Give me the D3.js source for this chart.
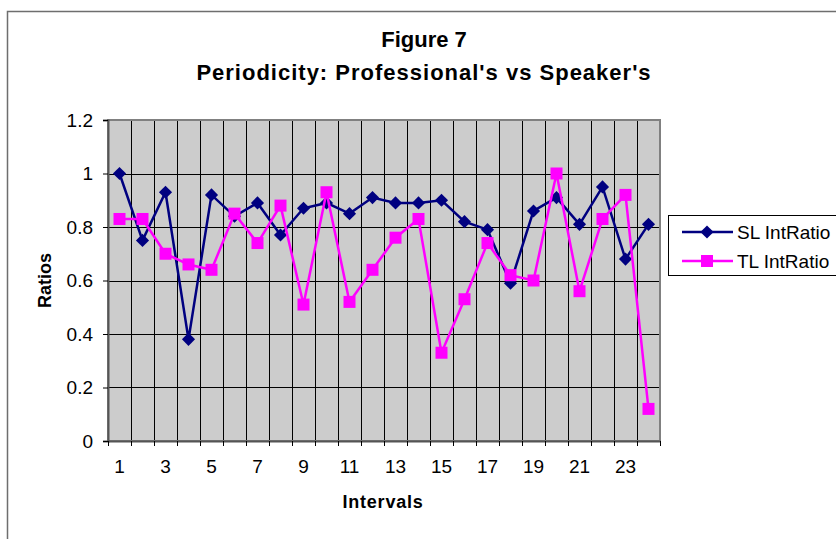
<!DOCTYPE html>
<html>
<head>
<meta charset="utf-8">
<script src="https://cdn.jsdelivr.net/npm/d3@7"></script>
<style>
  body { margin: 0; background: #fff; }
  text { font-family: "Liberation Sans", Arial, sans-serif; fill: #000; }
</style>
</head>
<body>
<div id="chart"></div>
<script>
// data
const intervals = d3.range(1, 25);
const slIntRatio = [1.00, 0.75, 0.93, 0.38, 0.92, 0.84, 0.89, 0.77, 0.87, 0.89, 0.85, 0.91,
                    0.89, 0.89, 0.90, 0.82, 0.79, 0.59, 0.86, 0.91, 0.81, 0.95, 0.68, 0.81];
const tlIntRatio = [0.83, 0.83, 0.70, 0.66, 0.64, 0.85, 0.74, 0.88, 0.51, 0.93, 0.52, 0.64,
                    0.76, 0.83, 0.33, 0.53, 0.74, 0.62, 0.60, 1.00, 0.56, 0.83, 0.92, 0.12];
const yTicks = [0, 0.2, 0.4, 0.6, 0.8, 1, 1.2];
const seriesNames = ["SL IntRatio", "TL IntRatio"];

const W = 836, H = 539;
const plot = {left: 108, right: 660, top: 120, bottom: 441};

const svg = d3.select("#chart").append("svg")
  .attr("width", W).attr("height", H);

// outer chart frame (runs off the right / bottom edge)
svg.append("rect")
  .attr("x", 7.5).attr("y", 11.5)
  .attr("width", W + 20).attr("height", H + 20)
  .attr("fill", "#fff").attr("stroke", "#6e6e6e").attr("stroke-width", 1.5);

const x = d3.scaleBand().domain(intervals).range([plot.left, plot.right]).padding(0);
const y = d3.scaleLinear().domain([0, 1.2]).range([plot.bottom, plot.top]);

// titles
svg.append("text").attr("x", 424).attr("y", 47)
  .attr("text-anchor", "middle").style("font-size", "22px").style("font-weight", "bold")
  .text("Figure 7");
svg.append("text").attr("x", 424).attr("y", 80)
  .attr("text-anchor", "middle").style("font-size", "22px").style("font-weight", "bold")
  .style("letter-spacing", "1px")
  .text("Periodicity: Professional's vs Speaker's");

// plot background
svg.append("rect")
  .attr("x", plot.left).attr("y", plot.top)
  .attr("width", plot.right - plot.left).attr("height", plot.bottom - plot.top)
  .attr("fill", "#cccccc");

// gridlines
const grid = svg.append("g");
grid.selectAll(".hg").data(yTicks.slice(1, -1)).enter().append("line")
  .attr("x1", plot.left).attr("x2", plot.right)
  .attr("y1", d => Math.round(y(d)) + 0.5).attr("y2", d => Math.round(y(d)) + 0.5)
  .attr("stroke", "#000").attr("stroke-width", 1);
grid.selectAll(".vg").data(intervals.slice(1)).enter().append("line")
  .attr("x1", d => Math.round(x(d)) + 0.5).attr("x2", d => Math.round(x(d)) + 0.5)
  .attr("y1", plot.top).attr("y2", plot.bottom)
  .attr("stroke", "#000").attr("stroke-width", 1);

// plot border
svg.append("rect")
  .attr("x", plot.left).attr("y", plot.top)
  .attr("width", plot.right - plot.left).attr("height", plot.bottom - plot.top)
  .attr("fill", "none").attr("stroke", "#808080").attr("stroke-width", 2);

// y axis
const yAxis = svg.append("g")
  .attr("transform", `translate(${plot.left},0)`)
  .call(d3.axisLeft(y).tickValues(yTicks).tickSize(5).tickPadding(10)
    .tickFormat(d => d3.format("")(+d.toFixed(1))));
yAxis.select(".domain").attr("stroke", "#555").attr("stroke-width", 2);
yAxis.selectAll(".tick line").attr("stroke", "#000");
yAxis.selectAll(".tick text").style("font-size", "19px").attr("fill", "#000");

// x axis
const xAxis = svg.append("g")
  .attr("transform", `translate(0,${plot.bottom})`)
  .call(d3.axisBottom(x).tickSize(0).tickPadding(19)
    .tickFormat(d => d % 2 === 1 ? d : ""));
xAxis.select(".domain").attr("stroke", "#555").attr("stroke-width", 2);
xAxis.selectAll(".tick text").style("font-size", "19px").attr("fill", "#000");
xAxis.selectAll(".cat-tick").data(intervals.concat([25])).enter().append("line")
  .attr("x1", (d, i) => Math.round(plot.left + i * x.bandwidth()) + 0.5)
  .attr("x2", (d, i) => Math.round(plot.left + i * x.bandwidth()) + 0.5)
  .attr("y1", 0).attr("y2", 5).attr("stroke", "#000");

// axis titles
svg.append("text").attr("x", 383).attr("y", 508)
  .attr("text-anchor", "middle").style("font-size", "18px").style("font-weight", "bold")
  .style("letter-spacing", "0.8px")
  .text("Intervals");
svg.append("text")
  .attr("transform", `translate(51,${(plot.top + plot.bottom) / 2}) rotate(-90)`)
  .attr("text-anchor", "middle").style("font-size", "18px").style("font-weight", "bold")
  .text("Ratios");

// series
const cx = d => x(d) + x.bandwidth() / 2;
const colors = ["#000080", "#ff00ff"];
const allSeries = [slIntRatio, tlIntRatio];

const line = d3.line().x((d, i) => cx(intervals[i])).y(d => y(d));
const diamond = d3.symbol().type(d3.symbolDiamond2).size(110);

allSeries.forEach((vals, s) => {
  svg.append("path").datum(vals)
    .attr("d", line).attr("fill", "none")
    .attr("stroke", colors[s]).attr("stroke-width", 2.5);
  const g = svg.append("g");
  if (s === 0) {
    g.selectAll("path").data(vals).enter().append("path")
      .attr("d", diamond)
      .attr("transform", (d, i) => `translate(${cx(intervals[i])},${y(d)})`)
      .attr("fill", colors[s]);
  } else {
    g.selectAll("rect").data(vals).enter().append("rect")
      .attr("x", (d, i) => cx(intervals[i]) - 6).attr("y", d => y(d) - 6)
      .attr("width", 12).attr("height", 12)
      .attr("fill", colors[s]);
  }
});

// legend
const legend = svg.append("g");
legend.append("rect")
  .attr("x", 668.5).attr("y", 215.5).attr("width", 190).attr("height", 60)
  .attr("fill", "#fff").attr("stroke", "#000").attr("stroke-width", 1);
seriesNames.forEach((name, i) => {
  const ly = 232 + i * 29;
  legend.append("line").attr("x1", 682).attr("x2", 733).attr("y1", ly).attr("y2", ly)
    .attr("stroke", colors[i]).attr("stroke-width", 2.5);
  if (i === 0) {
    legend.append("path").attr("d", diamond).attr("transform", `translate(707,${ly})`)
      .attr("fill", colors[i]);
  } else {
    legend.append("rect").attr("x", 701).attr("y", ly - 6).attr("width", 12).attr("height", 12)
      .attr("fill", colors[i]);
  }
  legend.append("text").attr("x", 737).attr("y", ly).attr("dy", "0.35em")
    .style("font-size", "19px").text(name);
});
</script>
</body>
</html>
